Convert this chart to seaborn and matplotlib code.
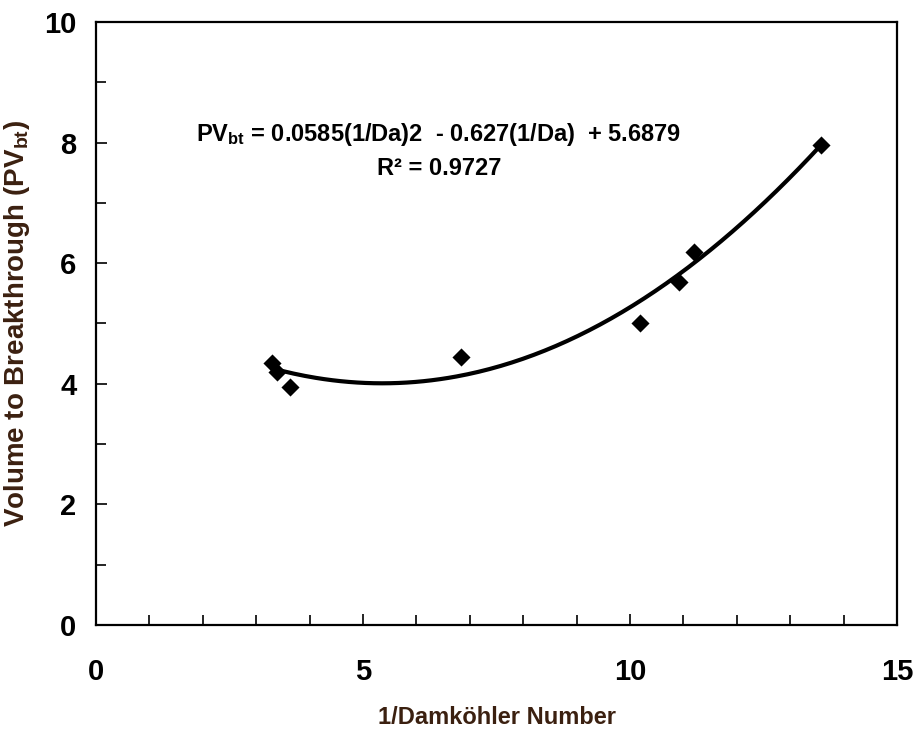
import numpy as np
import pandas as pd
import matplotlib.pyplot as plt
import seaborn as sns
from matplotlib.ticker import MultipleLocator

# data
inv_da = [3.29, 3.38, 3.64, 6.84, 10.19, 10.92, 11.20, 13.57]
pv_bt = [4.35, 4.20, 3.95, 4.44, 5.01, 5.69, 6.19, 7.96]

# poly trendline coefficients as printed on the chart
trend_coef = [0.0585, -0.627, 5.6879]
r_squared = 0.9727

sns.set_style("white")
plt.rcParams['font.family'] = ['Liberation Sans', 'DejaVu Sans']
plt.rcParams['font.weight'] = 'bold'
plt.rcParams['mathtext.fontset'] = 'custom'
plt.rcParams['mathtext.rm'] = 'Liberation Sans:bold'
plt.rcParams['mathtext.it'] = 'Liberation Sans:bold'
plt.rcParams['mathtext.bf'] = 'Liberation Sans:bold'

df = pd.DataFrame({"x": inv_da, "y": pv_bt})
xs = np.linspace(min(inv_da), max(inv_da), 200)
trend = pd.DataFrame({"x": xs, "y": np.polyval(trend_coef, xs)})

fig = plt.figure(figsize=(9.18, 7.31), dpi=100)
ax = fig.add_axes([0.1046, 0.145, 0.8725, 0.825])

sns.lineplot(data=trend, x="x", y="y", color="black", linewidth=3, ax=ax)
sns.scatterplot(data=df, x="x", y="y", marker="D", s=85, color="black",
                edgecolor="black", linewidth=0, ax=ax, zorder=3)

ax.set_xlim(0, 15)
ax.set_ylim(0, 10)
ax.xaxis.set_major_locator(MultipleLocator(5))
ax.xaxis.set_minor_locator(MultipleLocator(1))
ax.yaxis.set_major_locator(MultipleLocator(2))
ax.yaxis.set_minor_locator(MultipleLocator(1))
ax.tick_params(axis='both', which='both', direction='in', color='black',
               labelcolor='black', left=True, bottom=True, top=False, right=False)
ax.tick_params(axis='both', which='major', length=8, width=1.2, labelsize=21)
ax.tick_params(axis='both', which='minor', length=7, width=1.2)
ax.tick_params(axis='x', which='major', pad=24)
ax.tick_params(axis='y', which='major', pad=14)
for sp in ax.spines.values():
    sp.set_visible(True)
    sp.set_color('black')
    sp.set_linewidth(1.6)

lab_col = '#3b2010'
ax.set_xlabel("1/Damköhler Number", fontsize=17, fontweight='bold',
              color=lab_col, labelpad=14)
ax.set_ylabel("Volume to Breakthrough (PV$_{bt}$)", fontsize=20, fontweight='bold',
              color=lab_col, labelpad=9)

eq = ("PV$_{bt}$ = %.4f(1/Da)2  - %.3f(1/Da)  + %.4f"
      % (trend_coef[0], -trend_coef[1], trend_coef[2]))
ax.text(0.428, 0.787, eq + "\nR² = %.4f" % r_squared, transform=ax.transAxes,
        ha='center', va='center', fontsize=17, linespacing=1.5, color='black')

fig.savefig("out.png", dpi=100)
